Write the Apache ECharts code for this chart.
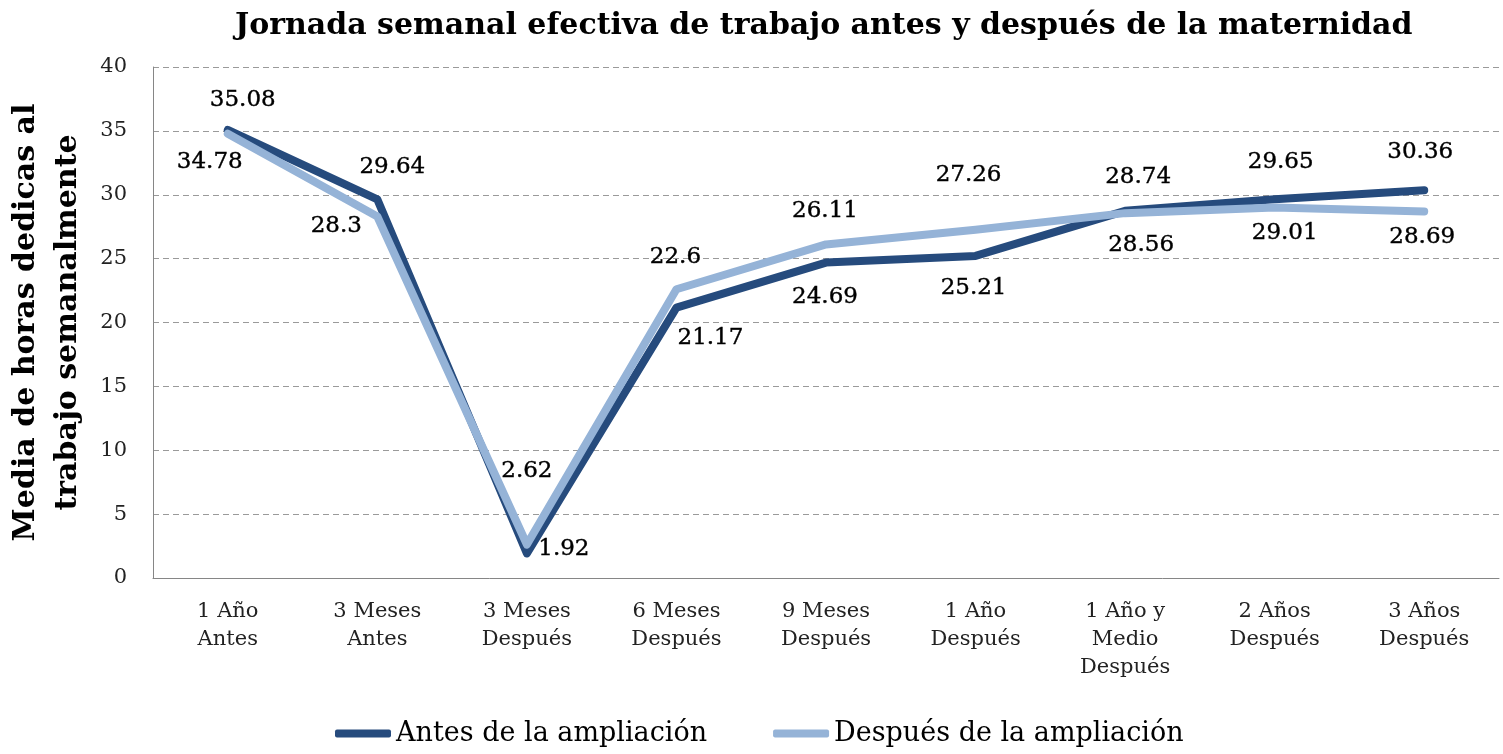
<!DOCTYPE html>
<html>
<head>
<meta charset="utf-8">
<script src="https://cdn.jsdelivr.net/npm/echarts@6/dist/echarts.min.js"></script>
<style>
  html, body { margin: 0; padding: 0; background: #fff; }
  #chart { width: 1503px; height: 754px; }
</style>
</head>
<body>
<div id="chart"></div>
<script>
// categorias del eje x
var categories = [
  '1 Año\nAntes', '3 Meses\nAntes', '3 Meses\nDespués', '6 Meses\nDespués',
  '9 Meses\nDespués', '1 Año\nDespués', '1 Año y\nMedio\nDespués',
  '2 Años\nDespués', '3 Años\nDespués'
]
var antes = [35.08, 29.64, 1.92, 21.17, 24.69, 25.21, 28.74, 29.65, 30.36]
var despues = [34.78, 28.3, 2.62, 22.6, 26.11, 27.26, 28.56, 29.01, 28.69]

// desplazamiento de cada etiqueta respecto a su punto (solo estilo)
var antesLabelPos = [[15, -30], [15, -32], [37, -4], [34, 30], [-1, 34], [-2, 32], [13, -34], [6, -37], [-4, -38]]
var despuesLabelPos = [[-18, 28], [-41, 10], [0, -73], [-1, -32], [-1, -33], [-7, -55], [16, 32], [10, 26], [-2, 26]]

var serif = '"DejaVu Serif", "Liberation Serif", serif'

function buildData(values, pos) {
  return values.map(function (v, i) {
    return {
      value: v,
      label: { offset: pos[i] }
    }
  })
}

var labelStyle = {
  show: true,
  position: 'inside',
  fontFamily: serif,
  fontSize: 23,
  color: '#000',
  textBorderColor: '#000',
  textBorderWidth: 0.4
}

var myChart = echarts.init(document.getElementById('chart'))
var option = {
  animation: false,
  title: {
    text: 'Jornada semanal efectiva de trabajo antes y después de la maternidad',
    left: 230,
    top: 6,
    textStyle: { fontFamily: serif, fontSize: 30, fontWeight: 'bold', color: '#000' }
  },
  legend: {
    bottom: 2,
    left: 330,
    itemWidth: 56,
    itemHeight: 8,
    itemGap: 66,
    icon: 'roundRect',
    textStyle: { fontFamily: serif, fontSize: 27, color: '#000' },
    data: ['Antes de la ampliación', 'Después de la ampliación']
  },
  grid: { left: 153, right: 4, top: 67, bottom: 176, outerBoundsMode: 'none' },
  xAxis: {
    type: 'category',
    data: categories,
    boundaryGap: true,
    axisLine: { lineStyle: { color: '#868686' } },
    axisTick: { length: 6, lineStyle: { color: '#868686' } },
    axisLabel: { fontFamily: serif, fontSize: 21, color: '#222', lineHeight: 28, margin: 20, interval: 0 }
  },
  yAxis: {
    type: 'value',
    min: 0,
    max: 40,
    interval: 5,
    name: 'Media de horas dedicas al\ntrabajo semanalmente',
    nameLocation: 'middle',
    nameGap: 54,
    nameTextStyle: { fontFamily: serif, fontSize: 30, fontWeight: 'bold', color: '#000', lineHeight: 42 },
    axisLine: { show: true, lineStyle: { color: '#868686' } },
    axisTick: { show: false },
    axisLabel: { fontFamily: serif, fontSize: 21, color: '#222', margin: 26 },
    splitLine: { lineStyle: { type: [6, 4], color: '#9a9a9a' } }
  },
  series: [
    {
      name: 'Antes de la ampliación',
      type: 'line',
      data: buildData(antes, antesLabelPos),
      symbol: 'circle',
      symbolSize: 0,
      showSymbol: true,
      lineStyle: { width: 8, color: '#264b7d', cap: 'round', join: 'round' },
      itemStyle: { color: '#264b7d' },
      label: labelStyle
    },
    {
      name: 'Después de la ampliación',
      type: 'line',
      data: buildData(despues, despuesLabelPos),
      symbol: 'circle',
      symbolSize: 0,
      showSymbol: true,
      lineStyle: { width: 8, color: '#95b3d7', cap: 'round', join: 'round' },
      itemStyle: { color: '#95b3d7' },
      label: labelStyle
    }
  ]
}
myChart.setOption(option)
</script>
</body>
</html>
